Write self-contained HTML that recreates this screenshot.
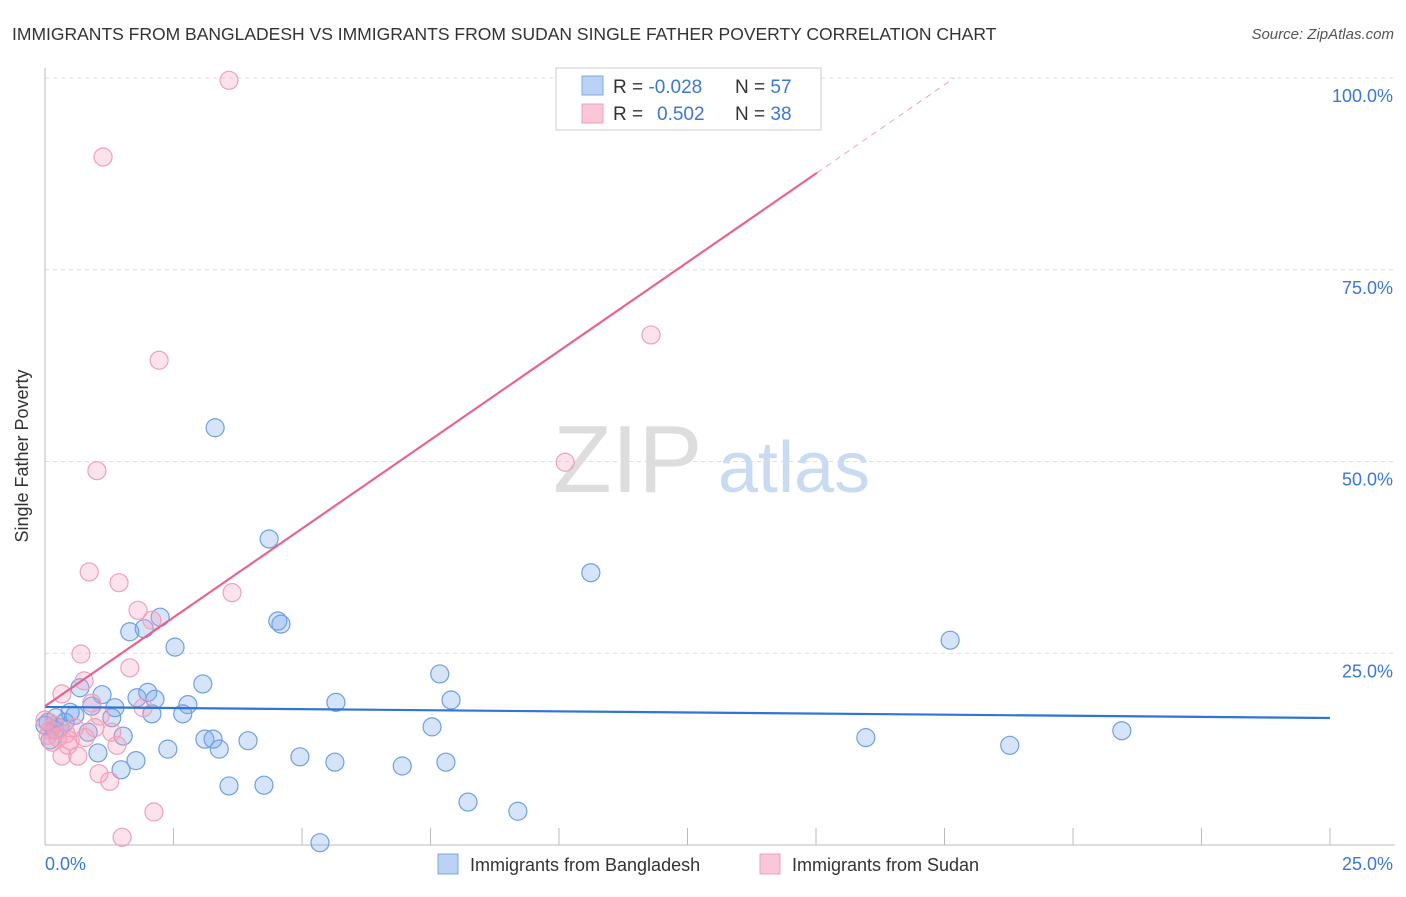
<!DOCTYPE html>
<html><head><meta charset="utf-8"><style>
body{margin:0;background:#fff;font-family:"Liberation Sans",sans-serif;}
svg text{font-family:"Liberation Sans",sans-serif;}
</style></head><body>
<svg width="1406" height="892" xmlns="http://www.w3.org/2000/svg">
<text x="12" y="40" font-size="17.5" fill="#333">IMMIGRANTS FROM BANGLADESH VS IMMIGRANTS FROM SUDAN SINGLE FATHER POVERTY CORRELATION CHART</text>
<text x="1394" y="39" font-size="15" fill="#555" font-style="italic" text-anchor="end">Source: ZipAtlas.com</text>
<g>
<text x="553" y="492" font-size="96" font-family="Liberation Serif,serif" fill="#ddd">ZIP</text>
<text x="718" y="492" font-size="72" fill="#c8dbf3">atlas</text>
</g>
<g id="grid"></g>
<g id="axes"></g>
<g id="marks"></g>
<text x="28" y="456" font-size="18" fill="#333" text-anchor="middle" transform="rotate(-90 28 456)">Single Father Poverty</text>
<text x="45" y="870" font-size="18" fill="#3a78d4">0.0%</text>
<text x="1393" y="870" font-size="18" fill="#3a78d4" text-anchor="end">25.0%</text>
<g>
<rect x="556" y="68" width="265" height="62" fill="#fff" stroke="#ccc"/>
<rect x="582" y="76" width="21" height="19" fill="#b9d2f5" stroke="#7fa8e3"/>
<rect x="582" y="104" width="21" height="19" fill="#f9c7d6" stroke="#eea1b8"/>
<text x="613" y="93" font-size="19" fill="#333">R = <tspan fill="#3a78d4">-0.028</tspan><tspan x="735">N = </tspan><tspan fill="#3a78d4">57</tspan></text>
<text x="613" y="120" font-size="19" fill="#333">R = <tspan fill="#3a78d4" x="657">0.502</tspan><tspan x="735">N = </tspan><tspan fill="#3a78d4">38</tspan></text>
</g>
<g>
<rect x="438" y="854" width="20" height="20" fill="#b9d2f5" stroke="#7fa8e3"/>
<text x="470" y="871" font-size="18" fill="#333">Immigrants from Bangladesh</text>
<rect x="760" y="854" width="20" height="20" fill="#f9c7d6" stroke="#eea1b8"/>
<text x="792" y="871" font-size="18" fill="#333">Immigrants from Sudan</text>
</g>
</svg>
<script>
const yTicks=[25,50,75,100];
const yTickLabels=["25.0%","50.0%","75.0%","100.0%"];
const xTicks=[0,2.5,5,7.5,10,12.5,15,17.5,20,22.5,25];
const blueX=[3.31,4.36,10.62,17.61,4.53,4.59,1.65,1.93,2.24,2.53,3.07,2.0,0.68,1.11,1.79,2.14,2.78,1.36,2.08,2.68,0.91,0.49,0.21,0.06,1.30,0.84,0.29,1.52,3.11,3.27,3.39,3.95,2.39,1.77,1.48,1.03,3.58,4.26,4.96,5.64,5.66,6.95,7.68,7.90,7.53,7.80,8.23,9.20,5.35,15.97,18.77,20.95,0.10,0.19,0.39,0.58,0.0];
const blueY=[54.4,39.9,35.5,26.7,29.2,28.8,27.8,28.2,29.7,25.8,21.0,19.9,20.5,19.6,19.2,19.0,18.3,17.9,17.1,17.1,18.1,17.3,16.6,16.0,16.6,14.7,15.3,14.2,13.8,13.8,12.5,13.6,12.5,11.0,9.8,12.0,7.7,7.8,11.5,10.8,18.6,10.3,22.3,18.9,15.4,10.8,5.6,4.4,0.3,14.0,13.0,14.9,13.7,15.0,16.0,16.9,15.6];
const pinkX=[3.58,1.13,2.22,1.01,10.12,11.79,0.86,1.44,3.64,1.81,2.08,0.70,1.65,0.76,0.33,0.91,1.07,1.91,1.30,1.40,0.49,0.33,0.64,1.05,1.26,2.12,1.50,0.06,0.14,0.25,0.41,0.58,0,0.19,0.45,0.78,0.97,0.10];
const pinkY=[99.7,89.7,63.2,48.8,49.9,66.5,35.6,34.2,32.9,30.6,29.3,24.9,23.1,21.4,19.7,18.5,16.8,17.9,14.7,13.0,13.6,11.6,11.6,9.3,8.3,4.3,1.0,14.3,13.4,14.0,14.5,15.3,16.3,15.6,13.0,14.0,15.3,15.0];
const blueTrend=[18.0,16.56];
const pinkTrend=[18.1,4.63];
const NS="http://www.w3.org/2000/svg";
const sx=v=>45+v*51.4, sy=v=>845-v*7.67;
function mk(t,a,p){const e=document.createElementNS(NS,t);for(const k in a)e.setAttribute(k,a[k]);document.getElementById(p).appendChild(e);return e;}
yTicks.forEach((t,i)=>{
 const g=mk('line',{x1:45,x2:1395,y1:sy(t),y2:sy(t),stroke:'#ddd','stroke-dasharray':'4,4'},'grid');
 
 
 const l=mk('text',{x:1393,y:sy(t)+24,'font-size':18,fill:'#3a78d4','text-anchor':'end'},'grid');
 l.textContent=yTickLabels[i];
 
 
});
let a=mk('line',{x1:45,x2:45,y1:68,y2:845,stroke:'#bbb'},'axes');


a=mk('line',{x1:45,x2:1395,y1:845,y2:845,stroke:'#bbb'},'axes');


xTicks.forEach(t=>{
 const e=mk('line',{x1:sx(t),x2:sx(t),y1:828,y2:845,stroke:'#bbb'},'axes');
 
 
});
blueX.forEach((x,i)=>{
 const c=mk('circle',{cx:sx(x),cy:sy(blueY[i]),r:9,fill:'rgba(120,165,235,0.3)',stroke:'#6f9fe0','stroke-width':1.2},'marks');
 
 
});
pinkX.forEach((x,i)=>{
 const c=mk('circle',{cx:sx(x),cy:sy(pinkY[i]),r:9,fill:'rgba(245,160,188,0.3)',stroke:'#eea1b8','stroke-width':1.2},'marks');
 
 
});
let l=mk('line',{x1:sx(0),y1:sy(blueTrend[0]),x2:sx(25),y2:sy(blueTrend[1]),stroke:'#2f74d6','stroke-width':2.2},'marks');


const xe=15.02, xd=(100-pinkTrend[0])/pinkTrend[1];
l=mk('line',{x1:sx(0),y1:sy(pinkTrend[0]),x2:sx(xe),y2:sy(pinkTrend[0]+pinkTrend[1]*xe),stroke:'#e8648f','stroke-width':2.2},'marks');


l=mk('line',{x1:sx(xe),y1:sy(pinkTrend[0]+pinkTrend[1]*xe),x2:sx(xd),y2:sy(100),stroke:'#f0a0b8','stroke-width':1,'stroke-dasharray':'6,5'},'marks');


</script>
</body></html>
